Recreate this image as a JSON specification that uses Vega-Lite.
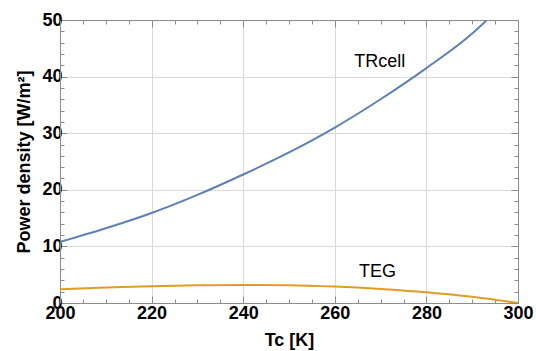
{
  "$schema": "https://vega.github.io/schema/vega-lite/v6.json",
  "autosize": {"type": "none"},
  "width": 458,
  "height": 283,
  "padding": {"left": 60, "top": 20, "right": 18, "bottom": 48},
  "background": "white",
  "config": {
    "view": {"stroke": null},
    "font": "Liberation Sans",
    "axis": {"domainColor": "#8c8c8c", "tickColor": "#8c8c8c", "gridColor": "#d9d9d9", "gridWidth": 1, "labelColor": "black", "titleColor": "black"}
  },
  "datasets": {
    "curves": [
      {"Tc": 200, "P": 10.8, "series": "TRcell"},
      {"Tc": 210, "P": 13.2, "series": "TRcell"},
      {"Tc": 220, "P": 15.9, "series": "TRcell"},
      {"Tc": 230, "P": 19.1, "series": "TRcell"},
      {"Tc": 240, "P": 22.7, "series": "TRcell"},
      {"Tc": 250, "P": 26.6, "series": "TRcell"},
      {"Tc": 260, "P": 31.0, "series": "TRcell"},
      {"Tc": 270, "P": 36.0, "series": "TRcell"},
      {"Tc": 280, "P": 41.5, "series": "TRcell"},
      {"Tc": 290, "P": 47.6, "series": "TRcell"},
      {"Tc": 293.2, "P": 50.0, "series": "TRcell"},
      {"Tc": 200, "P": 2.45, "series": "TEG"},
      {"Tc": 210, "P": 2.73, "series": "TEG"},
      {"Tc": 220, "P": 2.95, "series": "TEG"},
      {"Tc": 230, "P": 3.12, "series": "TEG"},
      {"Tc": 240, "P": 3.2, "series": "TEG"},
      {"Tc": 250, "P": 3.15, "series": "TEG"},
      {"Tc": 260, "P": 2.9, "series": "TEG"},
      {"Tc": 270, "P": 2.48, "series": "TEG"},
      {"Tc": 280, "P": 1.9, "series": "TEG"},
      {"Tc": 290, "P": 1.1, "series": "TEG"},
      {"Tc": 300, "P": 0.0, "series": "TEG"}
    ],
    "labels": [
      {"Tc": 269.8, "P": 42.6, "label": "TRcell"},
      {"Tc": 269.3, "P": 5.4, "label": "TEG"}
    ]
  },
  "layer": [
    {
      "data": {"name": "curves"},
      "mark": {"type": "line", "strokeWidth": 2, "interpolate": "monotone", "clip": true},
      "encoding": {
        "x": {
          "field": "Tc", "type": "quantitative",
          "scale": {"domain": [200, 300], "nice": false, "zero": false},
          "axis": {
            "orient": "bottom", "title": "Tc [K]",
            "values": [200,205,210,215,220,225,230,235,240,245,250,255,260,265,270,275,280,285,290,295,300],
            "labelExpr": "datum.value % 20 === 0 ? datum.label : ''",
            "labelFontSize": 18, "labelFontWeight": "bold", "labelPadding": 8, "labelFlush": false,
            "titleFontSize": 18, "titleFontWeight": "bold", "titlePadding": 9,
            "tickSize": {"condition": {"test": "datum.value % 20 === 0", "value": -7}, "value": -4},
            "grid": true,
            "gridOpacity": {"condition": {"test": "datum.value % 20 === 0 && datum.value > 200 && datum.value < 300", "value": 1}, "value": 0}
          }
        },
        "y": {
          "field": "P", "type": "quantitative",
          "scale": {"domain": [0, 50], "nice": false},
          "axis": {
            "orient": "left", "title": "Power density [W/m²]",
            "values": [0,2,4,6,8,10,12,14,16,18,20,22,24,26,28,30,32,34,36,38,40,42,44,46,48,50],
            "labelExpr": "datum.value % 10 === 0 ? datum.label : ''",
            "labelFontSize": 18, "labelFontWeight": "bold", "labelPadding": 5, "labelFlush": false,
            "titleFontSize": 18, "titleFontWeight": "bold", "titlePadding": 8,
            "tickSize": {"condition": {"test": "datum.value % 10 === 0", "value": -7}, "value": -4},
            "grid": true,
            "gridOpacity": {"condition": {"test": "datum.value % 10 === 0 && datum.value > 0 && datum.value < 50", "value": 1}, "value": 0}
          }
        },
        "color": {
          "field": "series", "type": "nominal",
          "scale": {"domain": ["TRcell", "TEG"], "range": ["#5E81B5", "#E19C24"]},
          "legend": null
        },
        "detail": {"field": "series"}
      }
    },
    {
      "data": {"name": "labels"},
      "mark": {"type": "text", "fontSize": 18, "font": "Liberation Sans", "color": "black"},
      "encoding": {
        "x": {
          "field": "Tc", "type": "quantitative",
          "scale": {"domain": [200, 300], "nice": false, "zero": false},
          "axis": {
            "orient": "top", "title": null, "labels": false, "grid": false,
            "values": [200,205,210,215,220,225,230,235,240,245,250,255,260,265,270,275,280,285,290,295,300],
            "tickSize": {"condition": {"test": "datum.value % 20 === 0", "value": -7}, "value": -4}
          }
        },
        "y": {
          "field": "P", "type": "quantitative",
          "scale": {"domain": [0, 50], "nice": false},
          "axis": {
            "orient": "right", "title": null, "labels": false, "grid": false,
            "values": [0,2,4,6,8,10,12,14,16,18,20,22,24,26,28,30,32,34,36,38,40,42,44,46,48,50],
            "tickSize": {"condition": {"test": "datum.value % 10 === 0", "value": -7}, "value": -4}
          }
        },
        "text": {"field": "label"}
      }
    }
  ],
  "resolve": {"axis": {"x": "independent", "y": "independent"}}
}
